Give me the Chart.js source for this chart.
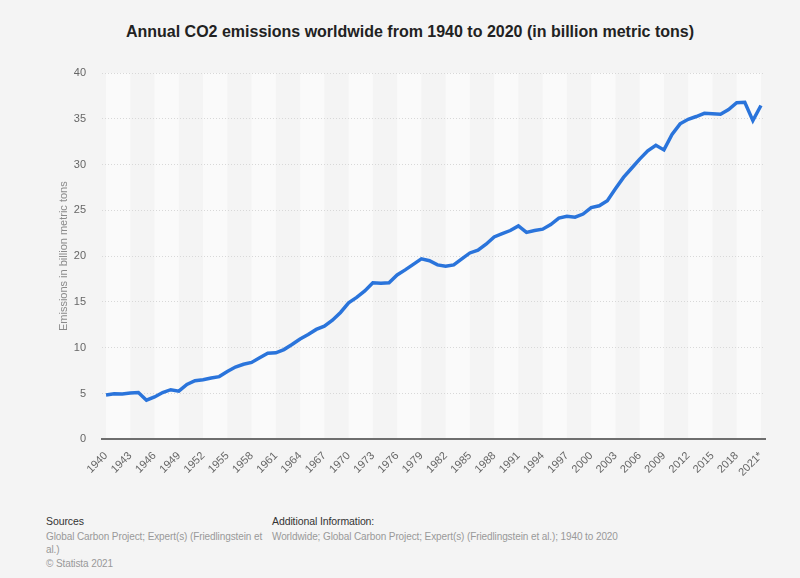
<!DOCTYPE html>
<html>
<head>
<meta charset="utf-8">
<script src="https://cdn.jsdelivr.net/npm/chart.js@4"></script>
<style>
    body { margin:0; width:800px; height:578px; background:#f4f4f4; font-family:"Liberation Sans", Arial, sans-serif; position:relative; overflow:hidden; }
    #title { position:absolute; top:23px; left:0; width:820px; text-align:center; font-size:16px; font-weight:bold; color:#222; }
    #wrap { position:absolute; left:0; top:0; width:800px; height:500px; }
    .foot { position:absolute; top:515px; font-size:10px; letter-spacing:-0.1px; line-height:13.5px; color:#999; }
    .foot b { font-weight:normal; color:#333; display:block; font-size:10.5px; margin-bottom:1px; }
</style>
</head>
<body>
<div id="title">Annual CO2 emissions worldwide from 1940 to 2020 (in billion metric tons)</div>
<div id="wrap"><canvas id="myChart" width="800" height="500"></canvas></div>
<div class="foot" style="left:46px; width:226px;"><b>Sources</b>Global Carbon Project; Expert(s) (Friedlingstein et al.)<br>© Statista 2021</div>
<div class="foot" style="left:272px; width:420px;"><b>Additional Information:</b>Worldwide; Global Carbon Project; Expert(s) (Friedlingstein et al.); 1940 to 2020</div>

<script>
//years on the x axis, last one is the estimate
let years = [];
for (let y = 1940; y <= 2020; y++) years.push(String(y));
years.push("2021*");

//emissions in billion metric tons
let emissions = [
    4.85, 4.97, 4.96, 5.05, 5.12, 4.27, 4.63, 5.11, 5.42, 5.26,
    6.0, 6.4, 6.5, 6.7, 6.85, 7.4, 7.9, 8.2, 8.4, 8.9,
    9.4, 9.45, 9.8, 10.35, 10.95, 11.45, 12.0, 12.35, 13.0, 13.85,
    14.9, 15.5, 16.2, 17.1, 17.05, 17.1, 17.95, 18.5, 19.1, 19.7,
    19.5, 19.05, 18.9, 19.05, 19.7, 20.35, 20.65, 21.3, 22.1, 22.45,
    22.8, 23.3, 22.6, 22.8, 22.95, 23.45, 24.15, 24.35, 24.25, 24.6,
    25.3, 25.5, 26.05, 27.35, 28.6, 29.6, 30.6, 31.5, 32.1, 31.6,
    33.3, 34.45, 34.95, 35.25, 35.6, 35.55, 35.5, 36.0, 36.75, 36.8,
    34.8, 36.45
];

let yTicks = {min: 0, max: 40, step: 5};

//alternating vertical bands, 3 years wide
const stripes = {
    id: 'stripes',
    beforeDraw(chart) {
        let c = chart.ctx;
        let area = chart.chartArea;
        let x = chart.scales.x;
        c.save();
        c.fillStyle = '#fafafa';
        for (let i = 0; i + 3 < years.length; i += 6) {
            let x0 = x.getPixelForValue(i);
            let x1 = x.getPixelForValue(i + 3);
            c.fillRect(x0, area.top, x1 - x0, area.bottom - area.top);
        }
        c.restore();
    }
};

const ctx = document.getElementById('myChart').getContext('2d');
const myChart = new Chart(ctx, {
    type: 'line',
    data: {
        labels: years,
        datasets: [{
            data: emissions,
            borderColor: '#2a74db',
            borderWidth: 3.5,
            pointRadius: 0,
            tension: 0,
            fill: false
        }]
    },
    options: {
        responsive: false,
        animation: false,
        devicePixelRatio: 1,
        layout: {
            padding: {left: 57, right: 35, top: 73, bottom: 19}
        },
        plugins: {
            legend: {display: false},
            tooltip: {enabled: false}
        },
        scales: {
            x: {
                offset: true,
                grid: {display: false},
                border: {display: true, color: '#6e6e6e', width: 2},
                ticks: {
                    autoSkip: false,
                    maxRotation: 45,
                    minRotation: 45,
                    color: '#666',
                    font: {family: 'Liberation Sans', size: 11},
                    padding: 2,
                    callback: function(val, index) {
                        return index % 3 == 0 ? years[index] : '';
                    }
                }
            },
            y: {
                min: yTicks.min,
                max: yTicks.max,
                afterFit: function(scale) { scale.width = 45; },
                grid: {color: '#d8d8d8', lineWidth: 1, drawTicks: false},
                border: {display: false, dash: [1, 2]},
                ticks: {
                    stepSize: yTicks.step,
                    color: '#666',
                    padding: 16,
                    font: {family: 'Liberation Sans', size: 11}
                },
                title: {
                    display: true,
                    text: 'Emissions in billion metric tons',
                    color: '#8a8a8a',
                    font: {family: 'Liberation Sans', size: 11},
                    padding: {top: 0, bottom: 4}
                }
            }
        }
    },
    plugins: [stripes]
});
</script>
</body>
</html>
